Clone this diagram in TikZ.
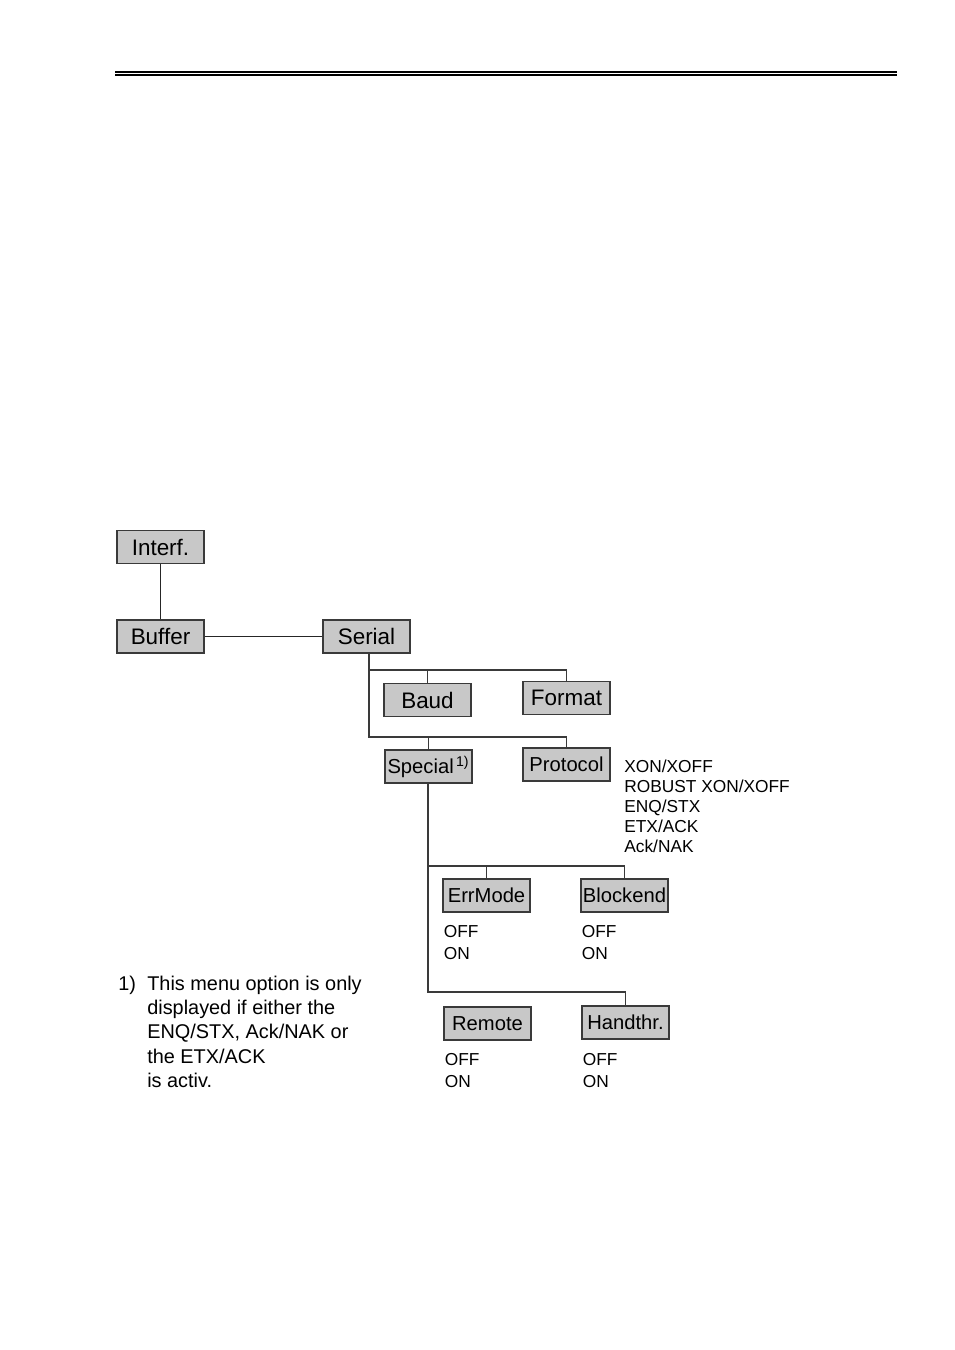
\documentclass[tikz,border=0pt]{standalone}
\usepackage{fontspec}
\setmainfont{Liberation Sans}
\usepackage{tikz}
\usetikzlibrary{positioning}
\definecolor{menugray}{HTML}{C8C8C8}
\definecolor{menuline}{HTML}{3A3A3A}

\begin{document}
\begin{tikzpicture}[
  x=0.6237pt, y=-0.6237pt,
  menu/.style={draw=menuline, fill=menugray, line width=0.8pt,
    minimum width=54.3pt, minimum height=20.6pt, inner sep=0pt},
  bigmenu/.style={menu, font=\fontsize{14}{16}\selectfont},
  smallmenu/.style={menu, font=\fontsize{12.6}{14}\selectfont},
  values/.style={anchor=north west, inner sep=0pt, align=left},
  wire/.style={draw=menuline, line width=0.8pt},
  mainwire/.style={draw=black!85, line width=1.2pt}
]
\useasboundingbox (0,0) rectangle (954,1350);
\draw[line width=1.3pt] (115,71.8) -- (897,71.8);
\draw[line width=1.1pt] (115,75.3) -- (897,75.3);

\node[bigmenu] (interf) at (160.5,547) {Interf.};
\node[bigmenu] (buffer) at (160.5,636.5) {Buffer};
\node[bigmenu] (serial) at (366.5,636.5) {Serial};
\node[bigmenu] (baud) at (427.5,700) {Baud};
\node[bigmenu] (format) at (566.5,698) {Format};
\node[smallmenu] (special) at (428.5,766.5) {Special\textsuperscript{\,1)}};
\node[smallmenu] (protocol) at (566.5,764.5) {Protocol};
\node[smallmenu] (errmode) at (486.5,895.5) {ErrMode};
\node[smallmenu] (blockend) at (624.5,895.5) {Blockend};
\node[smallmenu] (remote) at (487.5,1023.5) {Remote};
\node[smallmenu] (handthr) at (625.5,1022.5) {Handthr.};

\node[values, font=\fontsize{10.8}{12.5}\selectfont] (protlist) at (624,759.5) {XON/XOFF\\
ROBUST XON/XOFF\\ENQ/STX\\ETX/ACK\\Ack/NAK};
\node[values, font=\fontsize{10.8}{13.6}\selectfont] (errvals) at (443.5,925) {OFF\\ON};
\node[values, font=\fontsize{10.8}{13.6}\selectfont] (blockvals) at (581.5,925) {OFF\\ON};
\node[values, font=\fontsize{10.8}{13.8}\selectfont] (remvals) at (444.5,1053) {OFF\\ON};
\node[values, font=\fontsize{10.8}{13.8}\selectfont] (handvals) at (582.5,1053) {OFF\\ON};

\node[values, font=\fontsize{12.4}{15.2}\selectfont] (footmark) at (118,975.5) {1)};
\node[values, font=\fontsize{12.4}{15.2}\selectfont] (footnote) at (147,975.5) {This menu option is only\\
displayed if either the\\ENQ/STX, Ack/NAK or\\the ETX/ACK\\is activ.};

\coordinate (busa) at (369,670);
\coordinate (busb) at (369,737);
\coordinate (busc) at (428,866);
\coordinate (busd) at (428,992);

\draw[mainwire] (interf) -- (buffer);
\draw[mainwire] (buffer) -- (serial);
\draw[wire] (busa |- serial.south) -- (busb) -| (protocol.north);
\draw[wire] (busa) -| (format.north);
\draw[wire] (baud.north) -- (baud.north |- busa);
\draw[wire] (special.north) -- (special.north |- busb);
\draw[wire] (busc |- special.south) -- (busd) -| (handthr.north);
\draw[wire] (busc) -| (blockend.north);
\draw[wire] (errmode.north) -- (errmode.north |- busc);
\end{tikzpicture}
\end{document}
